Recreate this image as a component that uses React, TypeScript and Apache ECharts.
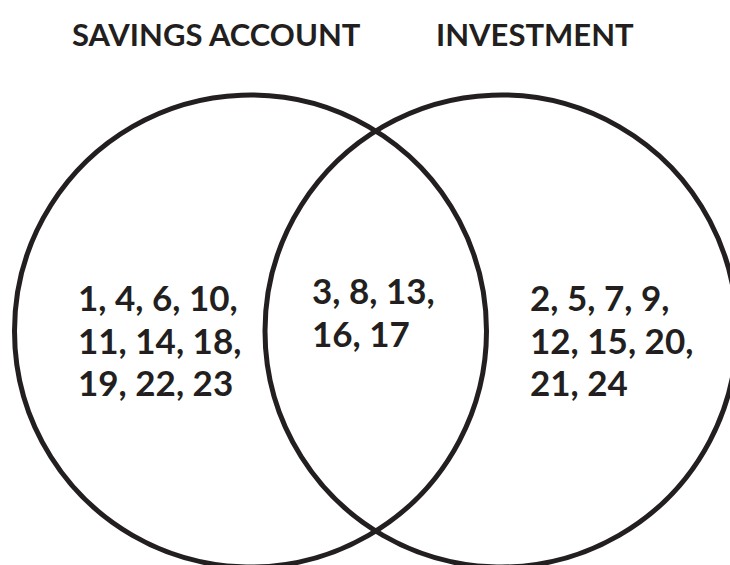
import React, { useEffect, useRef } from "react";
import * as echarts from "echarts";

// Set names (titles)
const setNames = ["SAVINGS ACCOUNT", "INVESTMENT"];
// Members of each region, grouped by printed line
const savingsOnlyLines = [[1, 4, 6, 10], [11, 14, 18], [19, 22, 23]];
const bothLines = [[3, 8, 13], [16, 17]];
const investmentOnlyLines = [[2, 5, 7, 9], [12, 15, 20], [21, 24]];

const INK = "#231f20";
const FONT = "Lato, 'Noto Sans', sans-serif";

function linesToText(lines: number[][]): string[] {
  return lines.map((l, i) => l.join(", ") + (i < lines.length - 1 ? "," : ""));
}

export default function App() {
  const ref = useRef<HTMLDivElement>(null);
  useEffect(() => {
    if (!ref.current) return;
    const chart = echarts.init(ref.current, undefined, { renderer: "svg" });

    // circle layout in a 730 x 565 coordinate space
    const circles = [
      { name: setNames[0], cx: 250.5, cy: 331, r: 236 },
      { name: setNames[1], cx: 501, cy: 331, r: 236 },
    ];
    const regions = [
      { lines: linesToText(savingsOnlyLines), x: 78, y: 297 },
      { lines: linesToText(bothLines), x: 312, y: 290 },
      { lines: linesToText(investmentOnlyLines), x: 530, y: 297 },
    ];
    const lineGap = 42.5;
    const textData: any[] = [];
    regions.forEach((rg) => {
      rg.lines.forEach((t, i) => {
        textData.push({ value: [rg.x, rg.y + i * lineGap], label: t });
      });
    });

    const titleStyle = { fontFamily: FONT, fontWeight: 700, fontSize: 31, color: INK };
    const option: any = {
      animation: false,
      backgroundColor: "#ffffff",
      grid: { left: 0, right: 0, top: 0, bottom: 0 },
      xAxis: { type: "value", min: 0, max: 730, show: false },
      yAxis: { type: "value", min: 0, max: 565, inverse: true, show: false },
      title: [
        { text: setNames[0], left: 67, top: 13, textStyle: titleStyle },
        { text: setNames[1], left: 431, top: 13, textStyle: titleStyle },
      ],
      series: [
        {
          type: "custom",
          coordinateSystem: "cartesian2d",
          silent: true,
          clip: false,
          data: circles.map((c) => [c.cx, c.cy, c.r]),
          renderItem: (params: any, api: any) => {
            const p = api.coord([api.value(0), api.value(1)]);
            const r = api.size([api.value(2), 0])[0];
            return {
              type: "circle",
              shape: { cx: p[0], cy: p[1], r },
              style: { fill: "none", stroke: INK, lineWidth: 5 },
            };
          },
        },
        {
          type: "custom",
          coordinateSystem: "cartesian2d",
          silent: true,
          clip: false,
          data: textData.map((d) => d.value),
          renderItem: (params: any, api: any) => {
            const p = api.coord([api.value(0), api.value(1)]);
            return {
              type: "text",
              x: p[0],
              y: p[1],
              style: {
                text: textData[params.dataIndex].label,
                font: `700 35px ${FONT}`,
                fill: INK,
                textAlign: "left",
                textVerticalAlign: "middle",
              },
            };
          },
        },
      ],
    };
    chart.setOption(option);
    return () => chart.dispose();
  }, []);
  return (
    <div
      ref={ref}
      style={{ position: "fixed", left: 0, top: 0, width: 730, height: 565, background: "#fff" }}
    />
  );
}
